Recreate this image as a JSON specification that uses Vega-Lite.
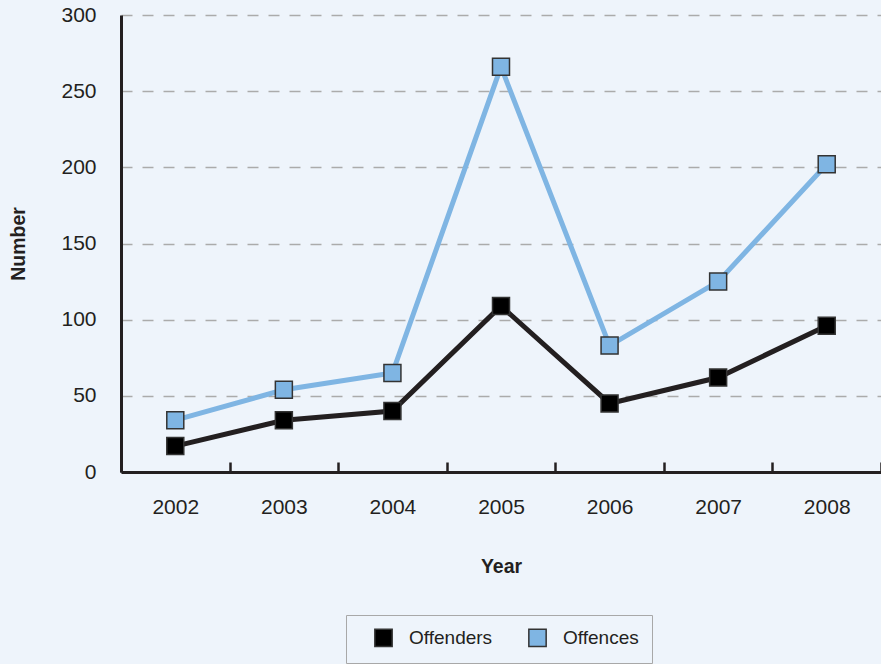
{
  "$schema": "https://vega.github.io/schema/vega-lite/v6.json",
  "autosize": {"type": "none"},
  "width": 760,
  "height": 457,
  "padding": {"left": 121, "top": 15, "right": 0, "bottom": 192},
  "background": "#eef4fb",
  "config": {
    "font": "Liberation Sans",
    "view": {"stroke": null},
    "axis": {"labelColor": "#231f20", "titleColor": "#231f20", "labelFont": "Liberation Sans", "titleFont": "Liberation Sans"}
  },
  "data": {
    "values": [
      {"year": "2002", "series": "Offenders", "value": 17},
      {"year": "2003", "series": "Offenders", "value": 34},
      {"year": "2004", "series": "Offenders", "value": 40},
      {"year": "2005", "series": "Offenders", "value": 109},
      {"year": "2006", "series": "Offenders", "value": 45},
      {"year": "2007", "series": "Offenders", "value": 62},
      {"year": "2008", "series": "Offenders", "value": 96},
      {"year": "2002", "series": "Offences", "value": 34},
      {"year": "2003", "series": "Offences", "value": 54},
      {"year": "2004", "series": "Offences", "value": 65},
      {"year": "2005", "series": "Offences", "value": 266},
      {"year": "2006", "series": "Offences", "value": 83},
      {"year": "2007", "series": "Offences", "value": 125},
      {"year": "2008", "series": "Offences", "value": 202}
    ]
  },
  "encoding": {
    "x": {
      "field": "year", "type": "ordinal", "title": "Year",
      "scale": {"type": "band", "paddingInner": 0, "paddingOuter": 0},
      "axis": {
        "labelAngle": 0, "labelFontSize": 21, "labelPadding": 34,
        "tickBand": "extent", "tickSize": -10, "tickWidth": 2.5, "tickColor": "#231f20",
        "domainColor": "#231f20", "domainWidth": 3,
        "titleFontSize": 19.5, "titleFontWeight": "bold", "titlePadding": 40
      }
    },
    "y": {
      "field": "value", "type": "quantitative", "title": "Number",
      "scale": {"domain": [0, 300], "nice": false},
      "axis": {
        "values": [0, 50, 100, 150, 200, 250, 300],
        "labelFontSize": 21, "labelPadding": 25, "tickSize": 0,
        "domainColor": "#231f20", "domainWidth": 3,
        "grid": true, "gridColor": "#ababab", "gridDash": [11, 10], "gridWidth": 1.5,
        "titleFontSize": 19.5, "titleFontWeight": "bold", "titlePadding": 32
      }
    }
  },
  "layer": [
    {
      "mark": {"type": "line", "strokeWidth": 5},
      "encoding": {
        "stroke": {
          "field": "series", "type": "nominal",
          "scale": {"domain": ["Offences", "Offenders"], "range": ["#7fb5e3", "#231f20"]},
          "legend": null
        }
      }
    },
    {
      "mark": {"type": "point", "shape": "square", "filled": true, "size": 289, "stroke": "#333333", "strokeWidth": 1.5, "opacity": 1},
      "encoding": {
        "fill": {
          "field": "series", "type": "nominal",
          "scale": {"domain": ["Offenders", "Offences"], "range": ["#000000", "#7fb5e3"]},
          "legend": {
            "title": null, "orient": "none", "direction": "horizontal",
            "legendX": 225, "legendY": 600,
            "strokeColor": "#a8a8a8", "fillColor": "#eef4fb", "padding": 13,
            "symbolType": "square", "symbolSize": 300,
            "symbolStrokeColor": "#333333", "symbolStrokeWidth": 1.5,
            "symbolOffset": 15,
            "labelFontSize": 19, "labelColor": "#231f20", "labelOffset": 16, "columnPadding": 20
          }
        }
      }
    }
  ]
}
